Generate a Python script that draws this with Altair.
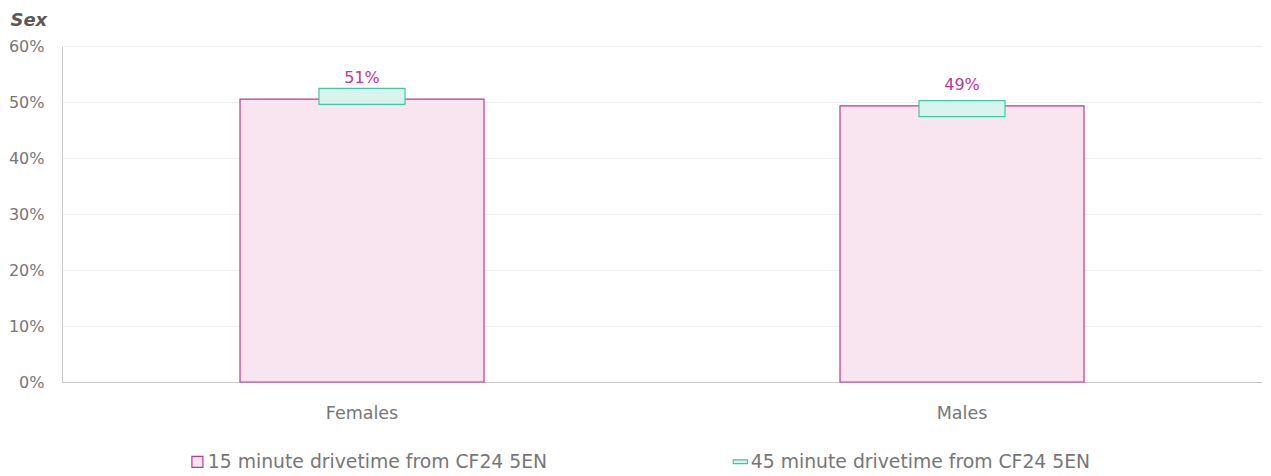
import altair as alt
import pandas as pd

categories = ["Females", "Males"]
drive15 = [50.5, 49.3]
drive45 = [51.0, 48.8]
labels15 = ["51%", "49%"]
series = ["15 minute drivetime from CF24 5EN", "45 minute drivetime from CF24 5EN"]
y_ticks = [0, 10, 20, 30, 40, 50, 60]

PINK = "#c2378f"
PINK_FILL = "#f8e5f0"
TEAL = "#3fc8a8"
TEAL_FILL = "#d8f4ec"
GRAY = "#767676"
FONT = "DejaVu Sans"

df = pd.DataFrame({"cat": categories, "v15": drive15, "v45": drive45, "lab": labels15})
leg = pd.DataFrame({"series": series})

x = alt.X("cat:N", sort=categories, title=None,
          scale=alt.Scale(paddingInner=0, paddingOuter=0),
          axis=alt.Axis(labelAngle=0, ticks=False, domainColor="#c8c8c8", labelColor=GRAY,
                        labelFontSize=17.5, labelFont=FONT, labelPadding=22, grid=False))
yscale = alt.Scale(domain=[0, 60], nice=False)

bars = alt.Chart(df).mark_bar(size=244, fill=PINK_FILL, stroke=PINK, strokeWidth=1.2).encode(
    x=x,
    y=alt.Y("v15:Q", scale=yscale, title=None,
            axis=alt.Axis(values=y_ticks, labelExpr="datum.value + '%'", ticks=False,
                          domainColor="#c8c8c8", gridColor="#efefef", labelColor=GRAY,
                          labelFontSize=16, labelFont=FONT, labelPadding=18)),
)

boxes = alt.Chart(df).mark_tick(orient="horizontal", size=86, thickness=16, fill=TEAL_FILL,
                                stroke=TEAL, strokeWidth=1.2, opacity=1).encode(
    x=alt.X("cat:N", sort=categories),
    y=alt.Y("v45:Q", scale=yscale),
)

texts = alt.Chart(df).mark_text(baseline="middle", dy=-21, fontSize=16, font=FONT, color=PINK).encode(
    x=alt.X("cat:N", sort=categories),
    y=alt.Y("v15:Q", scale=yscale),
    text="lab:N",
)

LX, LY = 126, 406
legend_layer = alt.Chart(leg).mark_point(filled=True, opacity=1).encode(
    fill=alt.Fill("series:N", scale=alt.Scale(domain=series, range=[PINK_FILL, TEAL_FILL]),
                  legend=alt.Legend(title=None, orient="none", direction="horizontal",
                                    legendX=LX, legendY=LY,
                                    columnPadding=182, labelOffset=1, symbolSize=121,
                                    symbolStrokeWidth=1.2, labelFontSize=18.8, labelFont=FONT,
                                    labelColor=GRAY, labelLimit=500)),
    stroke=alt.Stroke("series:N", scale=alt.Scale(domain=series, range=[PINK, TEAL]),
                      legend=alt.Legend(title=None, orient="none", legendX=LX, legendY=LY)),
    shape=alt.Shape("series:N", scale=alt.Scale(domain=series,
                                                range=["square", "M-1.3,-0.35H1.3V0.35H-1.3Z"]),
                    legend=alt.Legend(title=None, orient="none", legendX=LX, legendY=LY)),
    x=alt.X("cat:N", sort=categories),
    y=alt.Y("v15:Q", scale=yscale),
).transform_filter("false")

chart = alt.layer(bars, boxes, texts, legend_layer).properties(
    width=1200, height=336,
    padding={"left": 0, "top": 4, "right": 0, "bottom": 0},
    title=alt.TitleParams("Sex", anchor="start", fontStyle="italic", fontWeight="bold",
                          fontSize=18, color="#595959", font=FONT, offset=8, dx=2),
).configure_view(stroke=None).configure(background="white")

chart.save("out.html", embed_options={"renderer": "svg", "actions": False})
